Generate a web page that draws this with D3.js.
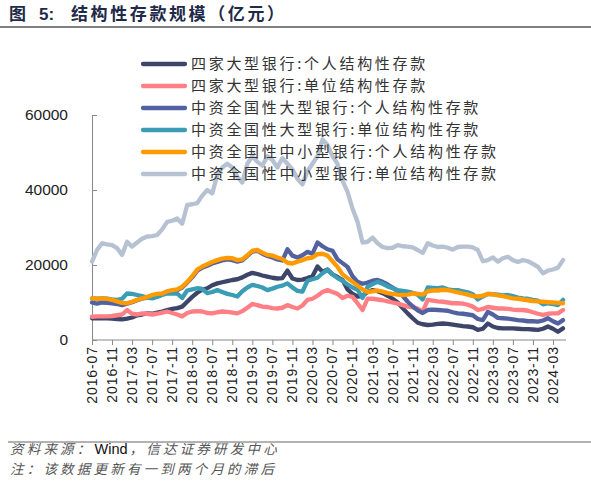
<!DOCTYPE html>
<html><head><meta charset="utf-8">
<script src="https://cdn.jsdelivr.net/npm/d3@7"></script>
<style>
body{margin:0;background:#fff;}
svg{display:block;}
</style></head>
<body><svg id="c" width="591" height="481"></svg>
<script>
// months 2016-07 .. 2024-05
const months = [];
for (let y = 2016, m = 7; y < 2024 || (y === 2024 && m <= 5); ) {
  months.push(y + "-" + String(m).padStart(2, "0"));
  m++; if (m > 12) { m = 1; y++; }
}
const tickLabels = months.filter((d, i) => i % 4 === 0);
const yTicks = [0, 20000, 40000, 60000];

const seriesNames = [
  "四家大型银行:个人结构性存款",
  "四家大型银行:单位结构性存款",
  "中资全国性大型银行:个人结构性存款",
  "中资全国性大型银行:单位结构性存款",
  "中资全国性中小型银行:个人结构性存款",
  "中资全国性中小型银行:单位结构性存款"
];
const seriesColors = ["#3d4668", "#ff7f84", "#5262a0", "#3a9cb5", "#ff9a00", "#b6c1d2"];

const big4Personal = [5800,5800,5800,5800,5700,5600,5500,5700,6000,6600,6800,7100,7000,7300,7600,8000,8300,8500,8900,10200,
  11500,12600,13400,13800,14600,15100,15400,15700,16000,16200,16700,17400,17900,17600,17200,16900,16600,16400,16500,18500,
  16400,16000,16100,16500,17000,19600,18200,18800,17500,16800,16000,13500,12300,11600,11800,12800,13300,13000,12500,11800,
  11000,10000,8500,7100,5800,4600,4200,4000,4100,4300,4400,4300,4100,3900,3700,3600,3400,2700,3000,4400,
  3600,3200,3100,3100,3100,3000,2900,2900,2800,2700,3000,3600,3000,2200,3100];
const big4Corporate = [6200,6300,6300,6300,6400,6600,6800,8000,7000,6800,7100,7000,6800,7000,7300,7600,7200,6800,6300,7200,
  7600,7700,7600,7200,7100,7400,7600,7500,7300,7100,7700,8600,9600,9300,8900,8800,8500,8400,8600,9300,
  8800,8400,9200,10700,11000,11800,12800,13300,12800,12300,11200,11800,11500,9800,8000,11000,11000,10800,10600,10300,
  10000,9700,9300,8900,8700,8400,7600,10700,10500,10300,10200,10000,9800,9800,9700,9400,8900,8000,8300,8800,
  8600,8400,8400,8300,8100,8000,8000,7800,7400,7000,6700,7000,7100,7100,8000];
const largePersonal = [10000,9700,10000,9900,9800,9600,9300,9700,10100,10600,11000,11300,11700,12000,12200,12600,13000,13300,14000,15300,
  16700,18500,19300,19800,20400,20800,21200,21500,21300,20900,21200,22400,23600,23800,23000,22400,22000,21500,21200,24200,
  22500,22000,22600,23500,23000,26000,25000,24200,23800,21500,20500,19500,17000,15500,15000,15300,15800,16000,15500,14800,
  14000,13000,11800,10200,9000,7900,7200,8000,8100,8000,7900,7800,7400,7100,7000,6800,6600,5600,5300,7500,
  6800,5900,5800,5700,5500,5300,5200,5000,5000,4900,5200,5800,5000,4400,5300];
const largeCorporate = [11100,11000,11100,11000,10800,10700,11000,12400,12300,12000,11700,11300,11100,11500,12000,12400,12400,12400,11200,13200,
  13500,13800,13600,12500,12800,13300,12800,12300,12000,11600,13000,14000,14700,14400,14000,13300,13700,14200,14500,15100,
  14000,13100,12900,15800,16200,16600,17800,18700,17500,16500,15800,14800,14000,13400,11200,14200,14900,15500,15000,14300,
  13800,13300,13100,12900,12600,12100,10800,14000,13900,13800,14000,13500,13300,13300,13000,12700,12200,10800,11600,12300,
  12200,12100,11900,12000,11700,11300,11100,11000,10700,10500,9500,9800,9600,9300,10700];
const smallPersonal = [11100,11000,11100,11000,10700,10300,9900,9800,10200,10700,11100,11500,12000,12300,12400,13000,13300,13500,14200,15500,
  17000,18800,19600,20200,20800,21300,21700,21900,21800,21300,21500,22600,23800,24000,23300,22700,22500,22000,21600,20600,
  20400,20900,21300,21800,22000,22900,23000,22500,21000,19500,17500,16500,15500,14500,13500,12800,13000,13200,12900,12500,
  12300,12100,12000,12100,12400,12300,12100,13000,13200,13200,13400,13300,13000,12700,12400,12100,11700,11600,11800,12300,
  12200,11900,11700,11400,11100,11000,10800,10600,10400,10300,10200,10100,10000,9900,9800];
const smallCorporate = [20900,24000,25800,25500,25300,24500,22700,26200,24900,26000,27000,27600,27700,28000,29500,31500,31800,32400,31000,36000,
  36200,36500,38500,40000,39100,44000,46000,47000,46000,43500,42000,47000,49000,47500,46500,49000,48000,46000,48500,47000,
  45500,43000,41500,45000,47000,49000,53500,52000,49000,47000,42500,39500,35000,31500,26000,26200,27300,25800,24800,24500,
  24600,25300,25000,24900,24700,24000,23200,25800,25200,24800,24900,24600,24100,24800,24900,24900,24700,24000,21000,21300,
  22000,20900,21800,22200,21300,20800,21300,21000,20300,19500,17800,18500,18800,19300,21300];

const seriesValues = [big4Personal, big4Corporate, largePersonal, largeCorporate, smallPersonal, smallCorporate];

const svg = d3.select("#c");
const font = "'Liberation Sans', Arial, sans-serif";
const cjk = "'Noto Sans CJK SC', sans-serif";

// title
const tg = svg.append("g").attr("font-family", cjk).attr("font-size", 17)
  .attr("font-weight", "bold").attr("fill", "#1f2a48");
tg.append("text").attr("x", 9).attr("y", 20).text("图");
tg.append("text").attr("x", 39).attr("y", 20).attr("font-family", font).text("5:");
tg.append("text").attr("x", 71).attr("y", 20).attr("letter-spacing", 2.6).text("结构性存款规模（亿元）");
svg.append("line").attr("x1", 0).attr("x2", 591).attr("y1", 27).attr("y2", 27)
  .attr("stroke", "#555").attr("stroke-width", 1.5);

const x = d3.scalePoint().domain(months).range([92, 563]);
const y = d3.scaleLinear().domain([0, 60000]).range([340, 115]);

// y axis
const yAxis = d3.axisRight(y).tickValues(yTicks).tickSize(5).tickFormat("");
const gy = svg.append("g").attr("transform", "translate(92,0)").call(yAxis);
gy.select(".domain").attr("stroke", "#888");
gy.selectAll(".tick line").attr("stroke", "#888");
svg.append("g").selectAll("text").data(yTicks).join("text")
  .attr("x", 68).attr("y", d => y(d)).attr("dy", "0.35em").attr("text-anchor", "end")
  .attr("font-family", font).attr("font-size", 15.5).attr("fill", "#222").text(d => d);

// x axis
const xAxis = d3.axisBottom(x).tickValues(tickLabels).tickSize(5).tickSizeOuter(0).tickFormat("");
const gx = svg.append("g").attr("transform", "translate(0,340)").call(xAxis);
gx.select(".domain").attr("stroke", "#888").attr("d", "M92,0H566");
gx.selectAll(".tick line").attr("stroke", "#888");
svg.append("g").selectAll("text").data(tickLabels).join("text")
  .attr("transform", d => `translate(${x(d)},346) rotate(-90)`)
  .attr("dy", "0.35em").attr("text-anchor", "end").attr("letter-spacing", 0.9)
  .attr("font-family", font).attr("font-size", 14).attr("fill", "#222").text(d => d);

// lines
const line = d3.line().x((d, i) => x(months[i])).y(d => y(d)).curve(d3.curveLinear);
svg.append("g").selectAll("path").data(seriesValues).join("path")
  .attr("d", d => line(d)).attr("fill", "none")
  .attr("stroke", (d, i) => seriesColors[i]).attr("stroke-width", 4.3)
  .attr("stroke-linejoin", "round").attr("stroke-linecap", "round");

// legend
const lg = svg.append("g");
seriesNames.forEach((n, i) => {
  const yy = 64 + i * 22;
  lg.append("line").attr("x1", 143).attr("x2", 185).attr("y1", yy).attr("y2", yy)
    .attr("stroke", seriesColors[i]).attr("stroke-width", 4.3).attr("stroke-linecap", "round");
  lg.append("text").attr("x", 191).attr("y", yy).attr("dy", "0.36em")
    .attr("font-family", cjk).attr("font-size", 15).attr("letter-spacing", 2.7)
    .attr("fill", "#333").text(n);
});

// footer
svg.append("line").attr("x1", 8).attr("x2", 591).attr("y1", 442).attr("y2", 442)
  .attr("stroke", "#666").attr("stroke-width", 1);
const fa = svg.append("text").attr("x", 10).attr("y", 454)
  .attr("font-family", cjk).attr("font-size", 13.5).attr("letter-spacing", 3.2).attr("fill", "#555")
  .attr("font-style", "italic").text("资料来源：");
const w1 = fa.node().getBBox().width;
const fb = svg.append("text").attr("x", 10 + w1 + 1).attr("y", 454)
  .attr("font-family", font).attr("font-size", 14.5).attr("fill", "#111").text("Wind");
const w2 = fb.node().getBBox().width;
svg.append("text").attr("x", 10 + w1 + 1 + w2 + 2).attr("y", 454)
  .attr("font-family", cjk).attr("font-size", 13.5).attr("letter-spacing", 3.2).attr("fill", "#555")
  .attr("font-style", "italic").text("，信达证券研发中心");
svg.append("text").attr("x", 10).attr("y", 474)
  .attr("font-family", cjk).attr("font-size", 13.5).attr("letter-spacing", 3.2).attr("fill", "#555")
  .attr("font-style", "italic").text("注：该数据更新有一到两个月的滞后");
</script></body></html>
